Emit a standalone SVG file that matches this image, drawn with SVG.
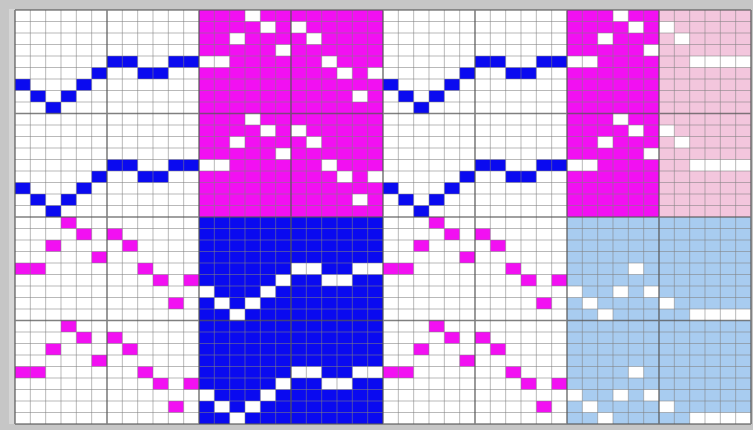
<svg xmlns="http://www.w3.org/2000/svg" width="753" height="430" viewBox="0 0 753 430">
<style>
.mag{fill:#f210f2}
.blu{fill:#0a0af0}
.pnk{fill:#f3c6dd}
.lbl{fill:#a8ccf0}
.minor{stroke:#808080;stroke-opacity:0.55;fill:none}
.major{stroke:#555555;stroke-opacity:0.75;fill:none}
</style>
<defs>
<g id="bt">
<rect x="0" y="6" width="1" height="1"/><rect x="1" y="7" width="1" height="1"/><rect x="2" y="8" width="1" height="1"/><rect x="3" y="7" width="1" height="1"/><rect x="4" y="6" width="1" height="1"/><rect x="5" y="5" width="1" height="1"/><rect x="6" y="4" width="2" height="1"/><rect x="8" y="5" width="2" height="1"/><rect x="10" y="4" width="2" height="1"/>
</g>
<g id="mt">
<rect x="0" y="4" width="2" height="1"/><rect x="2" y="2" width="1" height="1"/><rect x="3" y="0" width="1" height="1"/><rect x="4" y="1" width="1" height="1"/><rect x="5" y="3" width="1" height="1"/><rect x="6" y="1" width="1" height="1"/><rect x="7" y="2" width="1" height="1"/><rect x="8" y="4" width="1" height="1"/><rect x="9" y="5" width="1" height="1"/><rect x="10" y="7" width="1" height="1"/><rect x="11" y="5" width="1" height="1"/>
</g>
<g id="tr">
<rect x="0" y="4" width="2" height="1"/><rect x="2" y="2" width="1" height="1"/><rect x="3" y="0" width="1" height="1"/><rect x="4" y="1" width="1" height="1"/><rect x="5" y="3" width="1" height="1"/>
<rect x="6" y="1" width="1" height="1"/><rect x="7" y="2" width="1" height="1"/><rect x="8" y="4" width="4" height="1"/>
</g>
<g id="br">
<rect x="0" y="6" width="1" height="1"/><rect x="1" y="7" width="1" height="1"/><rect x="2" y="8" width="1" height="1"/><rect x="3" y="6" width="1" height="1"/><rect x="4" y="4" width="1" height="1"/><rect x="5" y="6" width="1" height="1"/>
<rect x="6" y="7" width="1" height="1"/><rect x="8" y="8" width="4" height="1"/>
</g>
</defs>
<rect width="753" height="430" fill="#c6c6c6"/>
<rect x="9" y="9" width="6" height="415" fill="#d6d6d6"/>
<g id="grid" transform="translate(15,10) scale(15.3333,11.5)">
<rect x="0" y="0" width="48" height="36" fill="#ffffff"/>
<rect class="mag" x="12" y="0" width="12" height="18"/>
<rect class="blu" x="12" y="18" width="12" height="18"/>
<rect class="mag" x="36" y="0" width="6" height="18"/>
<rect class="pnk" x="42" y="0" width="6" height="18"/>
<rect class="lbl" x="36" y="18" width="12" height="18"/>
<g id="threading-blue" fill="#0a0af0">
<use href="#bt"/><use href="#bt" y="9"/><use href="#bt" x="24"/><use href="#bt" x="24" y="9"/>
</g>
<g id="threading-magenta" fill="#f210f2">
<use href="#mt" y="18"/><use href="#mt" y="27"/><use href="#mt" x="24" y="18"/><use href="#mt" x="24" y="27"/>
</g>
<g id="drawdown-white" fill="#ffffff">
<use href="#mt" x="12"/><use href="#mt" x="12" y="9"/>
<use href="#bt" x="12" y="18"/><use href="#bt" x="12" y="27"/>
<use href="#tr" x="36"/><use href="#tr" x="36" y="9"/>
<use href="#br" x="36" y="18"/><use href="#br" x="36" y="27"/>
</g>
<path class="minor" vector-effect="non-scaling-stroke" stroke-width="1" d="M1 0V36M2 0V36M3 0V36M4 0V36M5 0V36M7 0V36M8 0V36M9 0V36M10 0V36M11 0V36M13 0V36M14 0V36M15 0V36M16 0V36M17 0V36M19 0V36M20 0V36M21 0V36M22 0V36M23 0V36M25 0V36M26 0V36M27 0V36M28 0V36M29 0V36M31 0V36M32 0V36M33 0V36M34 0V36M35 0V36M37 0V36M38 0V36M39 0V36M40 0V36M41 0V36M43 0V36M44 0V36M45 0V36M46 0V36M47 0V36M0 1H48M0 2H48M0 3H48M0 4H48M0 5H48M0 6H48M0 7H48M0 8H48M0 10H48M0 11H48M0 12H48M0 13H48M0 14H48M0 15H48M0 16H48M0 17H48M0 19H48M0 20H48M0 21H48M0 22H48M0 23H48M0 24H48M0 25H48M0 26H48M0 28H48M0 29H48M0 30H48M0 31H48M0 32H48M0 33H48M0 34H48M0 35H48"/>
<path class="major" vector-effect="non-scaling-stroke" stroke-width="1.6" d="M0 0V36M6 0V36M12 0V36M18 0V36M24 0V36M30 0V36M36 0V36M42 0V36M48 0V36M0 0H48M0 9H48M0 18H48M0 27H48M0 36H48"/>
</g>
</svg>
